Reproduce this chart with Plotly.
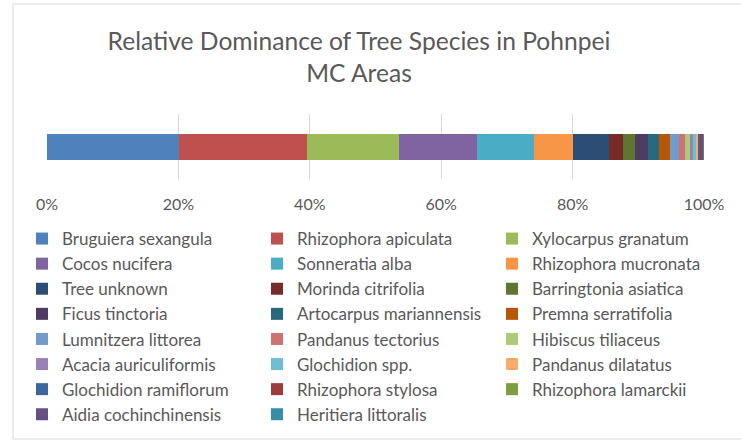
import plotly.graph_objects as go

species = [
    "Bruguiera sexangula", "Rhizophora apiculata", "Xylocarpus granatum",
    "Cocos nucifera", "Sonneratia alba", "Rhizophora mucronata",
    "Tree unknown", "Morinda citrifolia", "Barringtonia asiatica",
    "Ficus tinctoria", "Artocarpus mariannensis", "Premna serratifolia",
    "Lumnitzera littorea", "Pandanus tectorius", "Hibiscus tiliaceus",
    "Acacia auriculiformis", "Glochidion spp.", "Pandanus dilatatus",
    "Glochidion ramiflorum", "Rhizophora stylosa", "Rhizophora lamarckii",
    "Aidia cochinchinensis", "Heritiera littoralis",
]
dominance_pct = [
    20.1, 19.5, 14.0, 11.8, 8.8, 5.8,
    5.5, 2.1, 1.9, 2.0, 1.7, 1.7,
    1.3, 0.9, 0.7, 0.6, 0.4, 0.3,
    0.3, 0.3, 0.1, 0.1, 0.1,
]
colors = [
    "#4F81BD", "#C0504D", "#9BBB59", "#8064A2", "#4BACC6", "#F79646",
    "#2C4D75", "#772C2A", "#5F7530", "#4D3B62", "#276A7C", "#B65708",
    "#729ACA", "#CD7371", "#AFC97A", "#9983B5", "#6FBDD1", "#F9AB6B",
    "#3A679C", "#9F3B38", "#7E9C40", "#664F83", "#358EA6",
]
category = ["MC Areas"]
tick_vals = [0, 20, 40, 60, 80, 100]
tick_labels = ["0%", "20%", "40%", "60%", "80%", "100%"]

FONT = "Lato, 'Open Sans', sans-serif"
GREY = "#595959"

fig = go.Figure()
for name, val, col in zip(species, dominance_pct, colors):
    fig.add_trace(go.Bar(
        y=category, x=[val], name=name, orientation="h",
        marker=dict(color=col, line=dict(width=0)),
        hovertemplate=name + ": %{x:.1f}%<extra></extra>",
    ))

W, H = 741, 440
L, R, T, B = 47, 37, 114, 261
pw = W - L - R
ph = H - T - B

def px_x(p):
    return (p - L) / pw

def px_y(p):
    return (H - B - p) / ph

fig.update_layout(
    width=W, height=H,
    margin=dict(l=L, r=R, t=T, b=B, pad=0, autoexpand=False),
    paper_bgcolor="white", plot_bgcolor="white",
    barmode="stack", bargap=0.6,
    font=dict(family=FONT, color=GREY, size=16),
    title=dict(
        text="Relative Dominance of Tree Species in Pohnpei<br>MC Areas",
        x=359 / W, xanchor="center", xref="container",
        y=1 - 50 / H, yanchor="top", yref="container",
        font=dict(family=FONT, size=24.6, color=GREY),
    ),
    xaxis=dict(
        range=[0, 100], tickmode="array", tickvals=tick_vals, ticktext=tick_labels,
        showgrid=True, gridcolor="#D9D9D9", gridwidth=1,
        zeroline=False, showline=False, ticks="",
        tickfont=dict(family=FONT, size=16, color=GREY),
        ticklabelstandoff=14, fixedrange=True,
    ),
    yaxis=dict(visible=False, range=[-0.5, 0.5], fixedrange=True),
    showlegend=True,
    legend=dict(
        orientation="h", traceorder="normal",
        xref="paper", yref="paper",
        x=px_x(22), xanchor="left",
        y=px_y(221), yanchor="top",
        entrywidth=190, entrywidthmode="pixels",
        itemwidth=30, maxheight=400,
        font=dict(family=FONT, size=17, color=GREY),
        bgcolor="rgba(0,0,0,0)", borderwidth=0,
    ),
    shapes=[dict(
        type="rect", xref="paper", yref="paper",
        x0=px_x(13), x1=px_x(760), y0=px_y(439), y1=px_y(4),
        line=dict(color="#D9D9D9", width=1), fillcolor="rgba(0,0,0,0)",
        layer="below",
    )],
)

fig.write_html(
    "out.html",
    config={"displayModeBar": False},
    post_script="document.body.style.margin='0';document.body.style.overflow='hidden';",
)
